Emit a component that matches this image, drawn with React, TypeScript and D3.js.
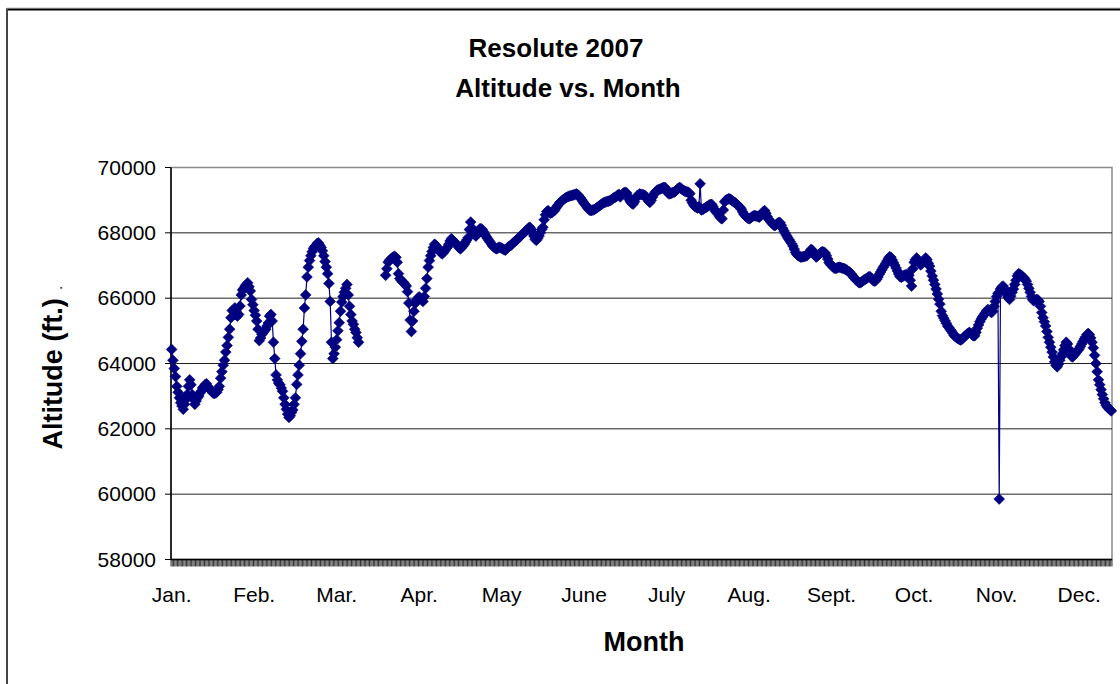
import React from "react";
import * as d3 from "d3";

// Twice-daily altitude readings (ft), one array per month of 2007.
const janAlt = [
  64430, 64100, 63850, 63600, 63300, 63120, 62950, 62800, 62700, 62600,
  62750, 62900, 63050, 63300, 63500, 63350, 63050, 62900, 62750, 62850,
  62950, 63000, 63100, 63150, 63250, 63300, 63350, 63380, 63300, 63250,
  63200, 63150, 63100, 63080, 63100, 63120, 63200, 63300, 63550, 63750,
  63950, 64100, 64350, 64550, 64800, 65050, 65400, 65620, 65650, 65700,
  65600, 65450, 65500, 65760, 66100, 66250, 66300, 66370, 66420, 66470,
  66350, 66220,
];
const febAlt = [
  65960, 65800, 65620, 65480, 65300, 65050, 64700, 64780, 64890, 64950,
  65000, 65050, 65150, 65240, 65450, 65500, 65300, 64650, 64150, 63650,
  63500, 63400, 63350, 63250, 63150, 62950, 62750, 62600, 62450, 62350,
  62400, 62500, 62580, 62750, 62950, 63360, 63650, 63950, 64300, 64680,
  65050, 65700, 66100, 66650, 66950, 67150, 67300, 67420, 67520, 67580,
  67620, 67680, 67690, 67620, 67550, 67450,
];
const marAlt = [
  67300, 67120, 66950, 66750, 66450, 65900, 64650, 64150, 64300, 64500,
  64730, 65000, 65250, 65600, 65880, 66050, 66180, 66300, 66420, 66100,
  65750, 65500, 65300, 65200, 65050, 64950, 64790, 64650,
  null, null, null, null, null, null, null, null, null, null,
  null, null, null, null, null, null, null, null, null, null,
  66700, 66900, 67100, 67160, 67200, 67230, 67260, 67280, 67250, 67100,
  66750, 66600, 66550, 66500,
];
const aprAlt = [
  66480, 66420, 66370, 66200, 65850, 65330, 64980, 65300, 65600, 65840,
  65950, 66000, 66040, 66000, 65950, 65900, 66050, 66300, 66600, 66950,
  67150, 67300, 67430, 67550, 67650, 67620, 67560, 67500, 67450, 67380,
  67360, 67400, 67460, 67520, 67560, 67650, 67750, 67820, 67780, 67740,
  67700, 67660, 67600, 67540, 67510, 67550, 67600, 67650, 67720, 67780,
  67850, 68100, 68330, 68150, 68020, 67950, 67900, 67950, 68050, 68120,
];
const mayAlt = [
  68130, 68100, 68030, 67960, 67890, 67830, 67770, 67720, 67660, 67600,
  67560, 67530, 67510, 67530, 67560, 67550, 67530, 67510, 67480, 67470,
  67520, 67560, 67590, 67610, 67650, 67690, 67730, 67760, 67790, 67840,
  67880, 67910, 67950, 67990, 68030, 68060, 68110, 68150, 68170, 68100,
  68000, 67900, 67800, 67770, 67830, 67900, 68000, 68100, 68170, 68400,
  68550, 68650, 68680, 68630, 68600, 68620, 68650, 68680, 68750, 68810,
  68860, 68920,
];
const junAlt = [
  68950, 68990, 69020, 69050, 69080, 69100, 69110, 69130, 69140, 69150,
  69160, 69180, 69190, 69170, 69120, 69080, 69020, 68960, 68900, 68860,
  68800, 68740, 68700, 68680, 68690, 68700, 68720, 68740, 68770, 68800,
  68830, 68860, 68890, 68920, 68930, 68950, 68960, 68970, 68980, 69010,
  69040, 69070, 69090, 69110, 69150, 69180, 69100, 69150, 69200, 69230,
  69240, 69220, 69120, 69020, 68950, 68900, 68880, 68950, 69050, 69130,
];
const julAlt = [
  69150, 69190, 69180, 69170, 69160, 69150, 69100, 69030, 68970, 68930,
  69000, 69090, 69170, 69240, 69280, 69310, 69330, 69340, 69360, 69380,
  69390, 69380, 69300, 69220, 69190, 69200, 69220, 69240, 69250, 69280,
  69320, 69360, 69390, 69370, 69330, 69300, 69280, 69260, 69250, 69240,
  69200, 69000, 68920, 68850, 68800, 68780, 68760, 68800, 69500, 68700,
  68710, 68740, 68770, 68790, 68820, 68850, 68870, 68870, 68800, 68720,
  68650, 68620,
];
const augAlt = [
  68570, 68500, 68450, 68430, 68700, 68950, 69000, 69020, 69040, 69040,
  69010, 68980, 68950, 68930, 68890, 68850, 68810, 68780, 68720, 68640,
  68570, 68520, 68480, 68450, 68430, 68450, 68480, 68510, 68530, 68520,
  68510, 68490, 68480, 68530, 68590, 68650, 68680, 68600, 68500, 68420,
  68380, 68330, 68280, 68240, 68220, 68250, 68290, 68320, 68310, 68230,
  68140, 68060, 67990, 67920, 67850, 67790, 67730, 67670, 67600, 67500,
  67400, 67340,
];
const sepAlt = [
  67300, 67280, 67260, 67260, 67270, 67280, 67290, 67310, 67360, 67420,
  67490, 67470, 67400, 67320, 67260, 67290, 67330, 67370, 67410, 67420,
  67410, 67380, 67300, 67200, 67090, 67040, 67000, 66960, 66920, 66910,
  66920, 66940, 66950, 66940, 66920, 66910, 66900, 66880, 66850, 66820,
  66800, 66750, 66700, 66640, 66600, 66560, 66520, 66480, 66470, 66490,
  66520, 66550, 66580, 66600, 66630, 66660, 66650, 66600, 66550, 66520,
];
const octAlt = [
  66530, 66580, 66650, 66730, 66800, 66870, 66940, 67000, 67070, 67140,
  67210, 67270, 67250, 67170, 67090, 67010, 66920, 66830, 66740, 66660,
  66640, 66660, 66690, 66710, 66720, 66720, 66700, 66550, 66370, 66900,
  67100, 67180, 67230, 67170, 67080, 67020, 67050, 67120, 67180, 67230,
  67180, 67070, 66980, 66830, 66680, 66550, 66420, 66280, 66130, 65970,
  65820, 65600, 65470, 65390, 65310, 65230, 65150, 65100, 65040, 64990,
  64930, 64860,
];
const novAlt = [
  64820, 64790, 64760, 64740, 64720, 64740, 64780, 64820, 64860, 64900,
  64930, 64950, 64920, 64880, 64850, 64850, 64950, 65080, 65180, 65280,
  65360, 65420, 65480, 65540, 65600, 65650, 65640, 65600, 65560, 65600,
  65750, 65900, 66050, 66150, 59850, 66280, 66340, 66370, 66300, 66200,
  66100, 66020, 65960, 66060, 66180, 66280, 66420, 66550, 66680, 66750,
  66730, 66700, 66670, 66630, 66580, 66520, 66420, 66300, 66180, 66050,
];
const decAlt = [
  65950, 65920, 65940, 65960, 65950, 65900, 65750, 65560, 65400, 65280,
  65150, 64980, 64800, 64650, 64500, 64350, 64200, 64050, 63950, 63900,
  63980, 64100, 64200, 64300, 64420, 64550, 64650, 64600, 64450, 64300,
  64220, 64200, 64250, 64300, 64350, 64400, 64450, 64520, 64600, 64680,
  64750, 64820, 64880, 64920, 64880, 64780, 64650, 64480, 64250, 64000,
  63750, 63500, 63350, 63200, 63050, 62920, 62800, 62720, 62660, 62620,
  62580, 62550,
];

const monthLabels = ["Jan.", "Feb.", "Mar.", "Apr.", "May", "June", "July", "Aug.", "Sept.", "Oct.", "Nov.", "Dec."];
const labelEvery = 64; // one category label per 64 readings
const yTicks = [58000, 60000, 62000, 64000, 66000, 68000, 70000];

const altitudes: (number | null)[] = [
  ...janAlt, ...febAlt, ...marAlt, ...aprAlt, ...mayAlt, ...junAlt,
  ...julAlt, ...augAlt, ...sepAlt, ...octAlt, ...novAlt, ...decAlt,
];

const W = 1120;
const H = 684;
const plot = { left: 171, right: 1112, top: 167.5, bottom: 559.5 };
const FONT = "'Liberation Sans', Arial, sans-serif";
const NAVY = "#000080";
const R = 5.4; // diamond half-diagonal

export default function App() {
  const x = d3
    .scaleBand<number>()
    .domain(d3.range(altitudes.length))
    .range([plot.left, plot.right])
    .paddingInner(0)
    .paddingOuter(0);
  const bw = x.bandwidth();
  const cx = (i: number) => (x(i) as number) + bw / 2;
  const y = d3.scaleLinear().domain([58000, 70000]).range([plot.bottom, plot.top]);

  const line = d3
    .line<number | null>()
    .defined((d) => d != null)
    .x((_, i) => cx(i))
    .y((d) => y(d as number));

  const markerPath = altitudes
    .map((v, i) => (v == null ? "" : `M${cx(i)},${y(v) - R}l${R},${R}l${-R},${R}l${-R},${-R}z`))
    .join("");

  const catTicks = d3
    .range(altitudes.length + 1)
    .map((i) => `M${(plot.left + i * bw).toFixed(2)},${plot.bottom}v7`)
    .join("");

  const labelIdx = monthLabels.map((_, k) => k * labelEvery);

  return (
    <svg
      width={W}
      height={H}
      style={{ position: "absolute", left: 0, top: 0, background: "#fff" }}
      fontFamily={FONT}
    >
      <rect x={0} y={0} width={W} height={H} fill="#fff" />
      {/* chart frame */}
      <line x1={7} y1={8} x2={W} y2={8} stroke="#bbb" strokeWidth={1} />
      <rect x={7} y={9.5} width={W + 20} height={H + 20} fill="none" stroke="#000" strokeWidth={2} />
      <line x1={7} y1={9} x2={7} y2={H} stroke="#444" strokeWidth={2} />

      {/* title */}
      <text x={556} y={57} textAnchor="middle" fontSize={26} fontWeight="bold">
        Resolute 2007
      </text>
      <text x={568} y={97} textAnchor="middle" fontSize={26} fontWeight="bold">
        Altitude vs. Month
      </text>

      {/* plot border and gridlines */}
      <rect
        x={plot.left}
        y={plot.top}
        width={plot.right - plot.left}
        height={plot.bottom - plot.top}
        fill="none"
        stroke="#8a8a8a"
        strokeWidth={1.5}
      />
      {yTicks.slice(1, -1).map((t) => (
        <line key={t} x1={plot.left} x2={plot.right} y1={y(t)} y2={y(t)} stroke="#222" strokeWidth={1} />
      ))}

      {/* y axis */}
      <line x1={plot.left} x2={plot.left} y1={plot.top} y2={plot.bottom} stroke="#000" strokeWidth={1.5} />
      {yTicks.map((t) => (
        <g key={t}>
          <line x1={plot.left - 6} x2={plot.left} y1={y(t)} y2={y(t)} stroke="#000" strokeWidth={1} />
          <text x={plot.left - 15} y={y(t) + 7} textAnchor="end" fontSize={21}>
            {d3.format("d")(t)}
          </text>
        </g>
      ))}

      {/* x axis */}
      <path d={catTicks} stroke="#000" strokeWidth={0.8} fill="none" />
      <line x1={plot.left} x2={plot.right} y1={plot.bottom} y2={plot.bottom} stroke="#000" strokeWidth={1.5} />
      {labelIdx.map((idx, k) => (
        <text key={k} x={cx(idx)} y={602} textAnchor="middle" fontSize={21}>
          {monthLabels[k]}
        </text>
      ))}

      {/* series */}
      <path d={line(altitudes) || ""} fill="none" stroke={NAVY} strokeWidth={1.2} />
      <path d={markerPath} fill={NAVY} stroke={NAVY} strokeWidth={0.6} />

      {/* axis titles */}
      <text x={644} y={651} textAnchor="middle" fontSize={27} fontWeight="bold">
        Month
      </text>
      <text
        transform={`translate(62,${368}) rotate(-90)`}
        textAnchor="middle"
        fontSize={27}
        fontWeight="bold"
      >
        Altitude (ft.)
        <tspan fontSize={10} dx={9}>.</tspan>
      </text>
    </svg>
  );
}
